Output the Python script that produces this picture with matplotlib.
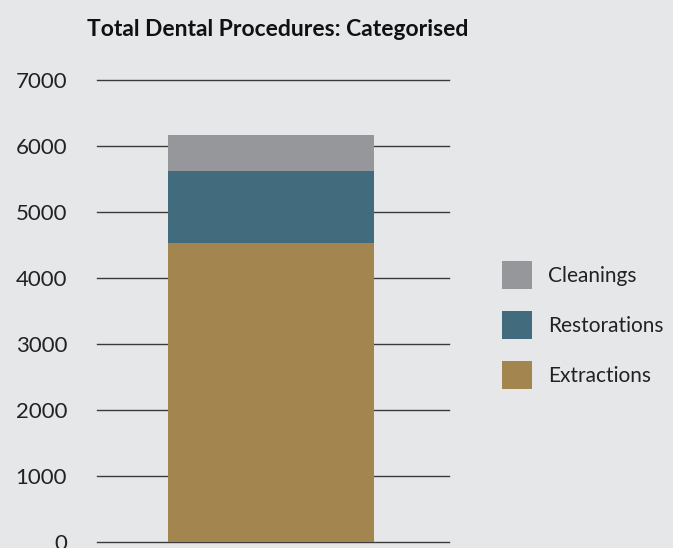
import matplotlib
matplotlib.use("Agg")
import matplotlib.pyplot as plt
from matplotlib.patches import Patch

plt.rcParams['font.family'] = ['Lato', 'DejaVu Sans']

categories = ["Total"]
series_names = ["Extractions", "Restorations", "Cleanings"]
extractions = [4530]
restorations = [1090]
cleanings = [547]
yticks = [0, 1000, 2000, 3000, 4000, 5000, 6000, 7000]

colors = {"Extractions": "#a3864f", "Restorations": "#426b7d", "Cleanings": "#96979a"}
bg = "#e6e7e9"

fig = plt.figure(figsize=(6.73, 5.48), dpi=100, facecolor=bg)
ax = fig.add_axes([97/673, 1 - 542/548, (449-97)/673, (542-80)/548], facecolor=bg)

x = range(len(categories))
w = 0.585
bottom = [0]*len(categories)
for name, vals in zip(series_names, [extractions, restorations, cleanings]):
    ax.bar(x, vals, width=w, bottom=bottom, color=colors[name], zorder=3, linewidth=0)
    bottom = [b + v for b, v in zip(bottom, vals)]

ax.set_xlim(-0.494, 0.506)
ax.set_ylim(0, 7000)
ax.set_yticks(yticks)
ax.set_yticklabels([str(t) for t in yticks], fontsize=16, color="#222222")
ax.tick_params(axis='y', length=0, pad=21.5)
ax.set_xticks([])
for s in ax.spines.values():
    s.set_visible(False)
for t in yticks:
    ax.axhline(t, color="#3a3a3a", linewidth=1.0, zorder=1, clip_on=False)

fig.text(278/673, 1 - 36/548, "Total Dental Procedures: Categorised", ha='center', va='baseline',
         fontsize=16.5, fontweight='bold', color="#111111")

leg_handles = [Patch(facecolor=colors[n], edgecolor='none') for n in ["Cleanings", "Restorations", "Extractions"]]
leg = fig.legend(leg_handles, ["Cleanings", "Restorations", "Extractions"],
                 loc='upper left', bbox_to_anchor=(502/673, 1 - 261/548), frameon=False,
                 borderpad=0, borderaxespad=0,
                 prop={'size': 15, 'weight': 'normal'},
                 handlelength=1.45, handleheight=1.67, handletextpad=0.75,
                 labelspacing=1.07, labelcolor="#222222")

fig.savefig("out.png", dpi=100, facecolor=bg)
